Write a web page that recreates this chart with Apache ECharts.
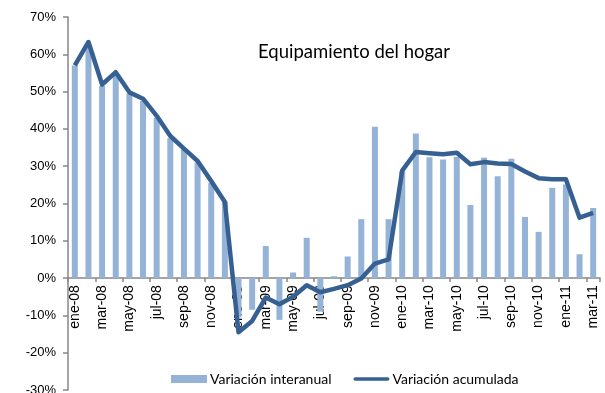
<!DOCTYPE html>
<html>
<head>
<meta charset="utf-8">
<script src="https://cdn.jsdelivr.net/npm/echarts@6/dist/echarts.min.js"></script>
<style>
  html, body { margin: 0; padding: 0; background: #ffffff; }
  #chart { width: 605px; height: 393px; }
</style>
</head>
<body>
<div id="chart"></div>
<script>
// Months from ene-08 to mar-11
const months = [
  'ene-08','feb-08','mar-08','abr-08','may-08','jun-08','jul-08','ago-08','sep-08','oct-08','nov-08','dic-08',
  'ene-09','feb-09','mar-09','abr-09','may-09','jun-09','jul-09','ago-09','sep-09','oct-09','nov-09','dic-09',
  'ene-10','feb-10','mar-10','abr-10','may-10','jun-10','jul-10','ago-10','sep-10','oct-10','nov-10','dic-10',
  'ene-11','feb-11','mar-11'
];

// Year-on-year change (%), bars
const interanual = [
  57.0, 62.0, 51.5, 54.5, 49.5, 47.5, 43.0, 37.5, 34.5, 31.0, 25.5, 20.5,
  -10.5, -8.5, 8.6, -11.2, 1.5, 10.8, -9.0, 0.5, 5.8, 15.8, 40.6, 15.8,
  28.6, 38.8, 32.4, 31.8, 32.5, 19.6, 32.3, 27.3, 32.0, 16.4, 12.4, 24.2,
  25.1, 6.4, 18.8
];

// Year-to-date change (%), line
const acumulada = [
  57.0, 63.3, 51.9, 55.2, 49.8, 48.1, 43.5, 38.1, 34.7, 31.4, 26.0, 20.4,
  -14.5, -11.5, -5.2, -7.0, -5.0, -1.9, -3.8, -2.9, -1.9, -0.1, 3.9, 5.0,
  28.8, 33.8, 33.5, 33.2, 33.6, 30.5, 31.1, 30.7, 30.6, 28.6, 26.8, 26.5,
  26.5, 16.2, 17.5
];

const yTicks = { min: -30, max: 70, step: 10 };

const gridTop = 17;
const gridBottom = 3;
const chartHeight = 393;

// Distance from the bottom of the plot up to the 0% line
const plotHeight = chartHeight - gridTop - gridBottom;
const zeroOffset = plotHeight * (0 - yTicks.min) / (yTicks.max - yTicks.min);

const chart = echarts.init(document.getElementById('chart'), null, { renderer: 'canvas' });

const axisFont = 'Liberation Sans, Arial, sans-serif';
const textFont = 'Lato, Open Sans, sans-serif';

chart.setOption({
  animation: false,
  backgroundColor: '#ffffff',
  title: {
    text: 'Equipamiento del hogar',
    left: 253,
    top: 38,
    textStyle: { fontFamily: textFont, fontSize: 18.5, fontWeight: 'normal', color: '#000000' }
  },
  legend: {
    top: 367,
    left: 166,
    itemWidth: 36,
    itemHeight: 8,
    itemGap: 22,
    textStyle: { fontFamily: textFont, fontSize: 14, color: '#000000', padding: [0, 0, 0, -2] },
    data: [
      { name: 'Variación interanual', icon: 'rect' },
      { name: 'Variación acumulada', icon: 'path://M2,0 L38,0 A2,2 0 0 1 38,4 L2,4 A2,2 0 0 1 2,0 Z' }
    ]
  },
  grid: {
    left: 68, right: 5, top: gridTop, bottom: gridBottom,
    containLabel: false,
    // the lowest tick label is allowed to run past the bottom edge
    outerBounds: { left: 0, top: 0, right: 0, bottom: -20 }
  },
  xAxis: {
    type: 'category',
    data: months,
    boundaryGap: true,
    position: 'bottom',
    offset: -zeroOffset,
    axisLine: { onZero: false, lineStyle: { color: '#868686', width: 1.5 } },
    axisTick: { show: true, interval: 1, length: 4, inside: false, lineStyle: { color: '#868686', width: 1.5 } },
    axisLabel: {
      interval: 1,
      rotate: 90,
      margin: 7,
      fontFamily: axisFont,
      fontSize: 14,
      color: '#000000'
    },
    z: 1
  },
  yAxis: {
    type: 'value',
    min: yTicks.min,
    max: yTicks.max,
    interval: yTicks.step,
    axisLine: { show: true, lineStyle: { color: '#868686', width: 1.5 } },
    axisTick: { show: true, length: 5, lineStyle: { color: '#868686', width: 1.5 } },
    splitLine: { show: false },
    axisLabel: {
      margin: 12,
      fontFamily: axisFont,
      fontSize: 13,
      color: '#000000',
      formatter: v => v + '%'
    }
  },
  series: [
    {
      name: 'Variación interanual',
      type: 'bar',
      data: interanual,
      barWidth: 6,
      itemStyle: { color: '#95b3d7' },
      z: 2
    },
    {
      name: 'Variación acumulada',
      type: 'line',
      data: acumulada,
      symbol: 'none',
      lineStyle: { color: '#376092', width: 4.5, join: 'round' },
      itemStyle: { color: '#376092' },
      z: 3
    }
  ]
});
</script>
</body>
</html>
